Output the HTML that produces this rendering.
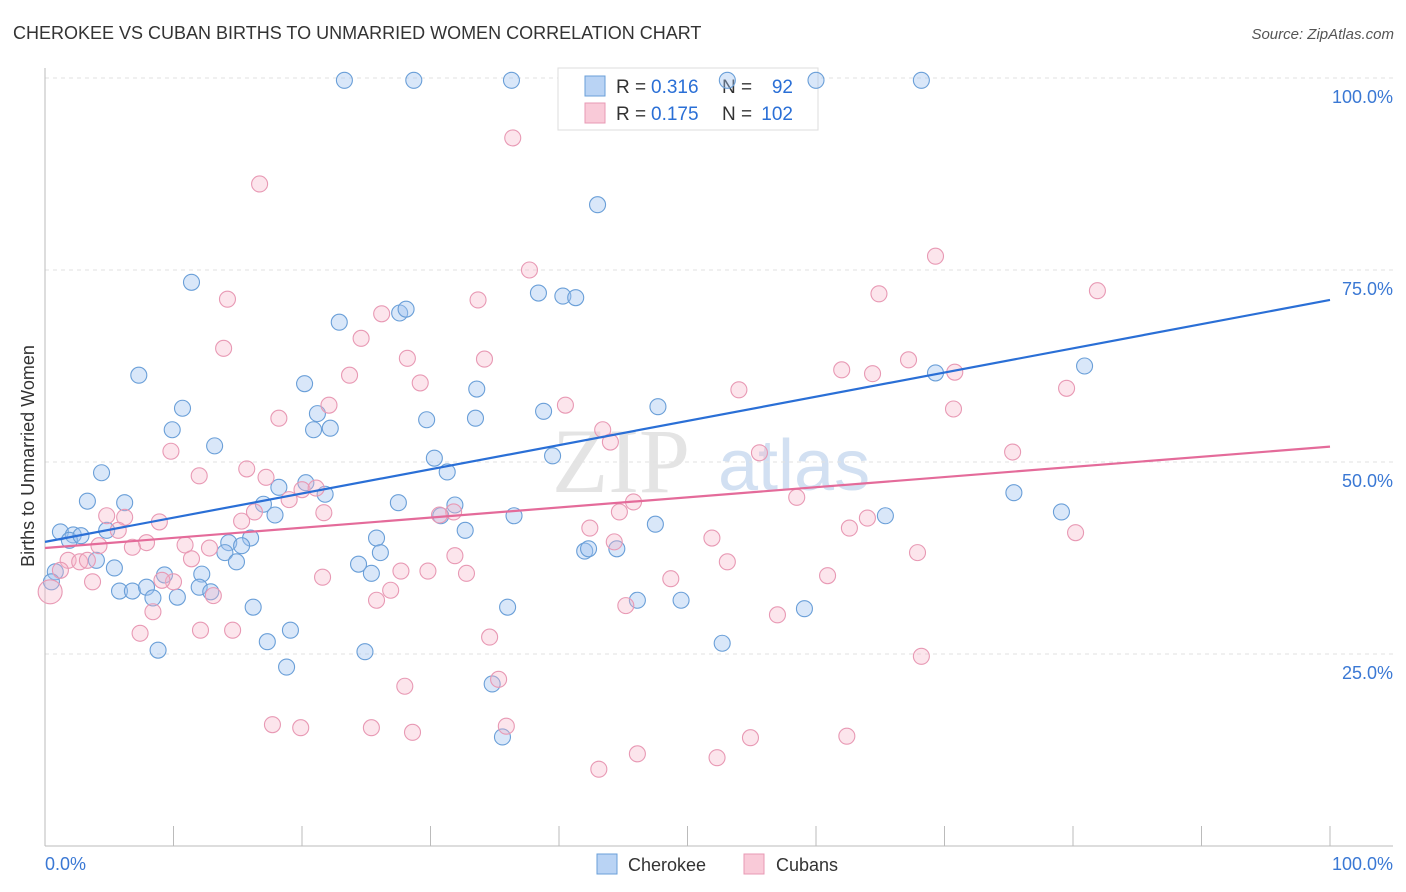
<!DOCTYPE html>
<html><head><meta charset="utf-8"><style>
body{margin:0;background:#fff;font-family:"Liberation Sans",sans-serif;}
svg{display:block}
</style></head><body>
<svg id="chart" width="1406" height="892" xmlns="http://www.w3.org/2000/svg">
<text x="13" y="39" font-size="18" fill="#333">CHEROKEE VS CUBAN BIRTHS TO UNMARRIED WOMEN CORRELATION CHART</text>
<text x="1394" y="39" font-size="15" fill="#555" text-anchor="end" font-style="italic">Source: ZipAtlas.com</text>
<text x="690" y="492" font-size="92" fill="#e4e4e4" text-anchor="end" font-family="Liberation Serif,serif">ZIP</text>
<text x="718" y="490" font-size="72" fill="#d2e0f2">atlas</text>
<g id="grid"></g>
<g id="axes"></g>
<g>
<rect x="558" y="68" width="260" height="62" fill="#fff" stroke="#ddd"/>
<rect x="585" y="76" width="20" height="20" fill="#b9d3f4" stroke="#6a9fd8"/>
<text x="616" y="93" font-size="19" fill="#333">R =</text>
<text x="651" y="93" font-size="19" fill="#2a6fd6">0.316</text>
<text x="722" y="93" font-size="19" fill="#333">N =</text>
<text x="793" y="93" font-size="19" fill="#2a6fd6" text-anchor="end">92</text>
<rect x="585" y="103" width="20" height="20" fill="#f9cad8" stroke="#e899b4"/>
<text x="616" y="120" font-size="19" fill="#333">R =</text>
<text x="651" y="120" font-size="19" fill="#2a6fd6">0.175</text>
<text x="722" y="120" font-size="19" fill="#333">N =</text>
<text x="793" y="120" font-size="19" fill="#2a6fd6" text-anchor="end">102</text>
</g>
<g id="pts"></g>
<g id="trend"></g>
<text transform="translate(34,456) rotate(-90)" font-size="18" fill="#333" text-anchor="middle">Births to Unmarried Women</text>
<text x="45" y="870" font-size="18" fill="#3a78d4">0.0%</text>
<text x="1393" y="870" font-size="18" fill="#3a78d4" text-anchor="end">100.0%</text>
<g>
<rect x="597" y="854" width="20" height="20" fill="#b9d3f4" stroke="#6a9fd8"/>
<text x="628" y="871" font-size="18" fill="#333">Cherokee</text>
<rect x="744" y="854" width="20" height="20" fill="#f9cad8" stroke="#e899b4"/>
<text x="776" y="871" font-size="18" fill="#333">Cubans</text>
</g>
</svg>
<script>
const cherX=[23.3,28.7,36.3,53.1,60.0,68.2,43.0,11.4,38.4,40.3,41.3,27.6,28.1,22.9,7.3,20.2,33.6,69.3,80.9,10.7,38.8,47.7,21.2,29.7,33.5,9.9,20.9,22.2,13.2,39.5,30.3,31.3,4.4,3.3,6.2,17.0,20.3,21.8,18.2,27.5,31.9,17.9,30.8,36.5,47.5,65.4,75.4,79.1,1.2,2.2,1.9,2.8,4.8,32.7,25.8,16.0,14.3,15.3,4.0,14.0,26.1,14.9,42.0,42.3,44.5,0.8,5.4,9.3,12.2,25.4,24.4,0.5,5.8,6.8,7.9,12.0,12.9,8.4,10.3,46.1,49.5,16.2,36.0,59.1,19.1,17.3,52.7,8.8,24.9,18.8,34.8,35.6];
const cherY=[99.7,99.7,99.7,99.7,99.7,99.7,83.5,73.4,72.0,71.6,71.4,69.4,69.9,68.2,61.3,60.2,59.5,61.6,62.5,57.0,56.6,57.2,56.3,55.5,55.7,54.2,54.2,54.4,52.1,50.8,50.5,48.7,48.6,44.9,44.7,44.5,47.3,45.8,46.7,44.7,44.4,43.1,43.0,43.0,41.9,43.0,46.0,43.5,40.9,40.5,39.8,40.4,41.1,41.1,40.1,40.1,39.5,39.1,37.2,38.2,38.2,37.0,38.4,38.7,38.7,35.7,36.2,35.3,35.4,35.5,36.7,34.4,33.2,33.2,33.7,33.7,33.1,32.3,32.4,32.0,32.0,31.1,31.1,30.9,28.1,26.6,26.4,25.5,25.3,23.3,21.1,14.2];
const cubX=[36.4,16.7,37.7,69.3,14.2,33.7,64.9,81.9,26.2,24.6,13.9,28.2,34.2,67.2,23.7,29.2,54.0,62.0,64.4,70.8,79.5,22.1,18.2,40.5,70.7,43.4,44.0,9.8,55.6,75.3,15.7,12.0,17.2,20.0,21.1,19.0,45.8,58.5,31.8,30.7,44.7,21.7,16.3,8.9,15.3,4.8,6.2,5.7,42.4,62.6,64.0,80.2,51.9,7.9,10.9,6.8,4.2,12.8,44.3,67.9,11.4,31.9,1.8,2.7,3.3,53.1,1.2,27.7,29.8,32.8,21.6,48.7,60.9,3.7,10.0,9.1,26.9,13.1,25.8,8.4,45.2,57.0,7.4,12.1,14.6,34.6,68.2,28.0,35.3,17.7,19.9,25.4,28.6,35.9,54.9,62.4,46.1,52.3,43.1,0.4];
const cubY=[92.2,86.2,75.0,76.8,71.2,71.1,71.9,72.3,69.3,66.1,64.8,63.5,63.4,63.3,61.3,60.3,59.4,62.0,61.5,61.7,59.6,57.4,55.7,57.4,56.9,54.2,52.6,51.4,51.2,51.3,49.1,48.2,48.0,46.4,46.6,45.1,44.8,45.4,43.5,43.1,43.5,43.4,43.5,42.2,42.3,43.0,42.8,41.1,41.4,41.4,42.7,40.8,40.1,39.5,39.2,38.9,39.1,38.8,39.6,38.2,37.4,37.8,37.2,37.0,37.2,37.0,35.9,35.8,35.8,35.5,35.0,34.8,35.2,34.4,34.4,34.6,33.3,32.6,32.0,30.5,31.3,30.1,27.7,28.1,28.1,27.2,24.7,20.8,21.7,15.8,15.4,15.4,14.8,15.6,14.1,14.3,12.0,11.5,10.0,33.1];
const cherTrend=[39.6,71.1];
const cubTrend=[38.8,52.0];
const yTicks=[25,50,75,100];
const yTickLabels=["25.0%","50.0%","75.0%","100.0%"];
const NS="http://www.w3.org/2000/svg";
const X=v=>45+v*12.85, Y=v=>846-v*7.68;
function mk(t,a,p){const e=document.createElementNS(NS,t);for(const k in a)e.setAttribute(k,a[k]);p.appendChild(e);return e;}
const grid=document.getElementById('grid'),axes=document.getElementById('axes'),pts=document.getElementById('pts'),tr=document.getElementById('trend');
yTicks.forEach((t,i)=>{
 const l=mk('line',{x1:45,x2:1393,y1:Y(t),y2:Y(t),stroke:'#e2e2e2','stroke-dasharray':'4,4'},grid);
 
 
 const tx=mk('text',{x:1393,y:Y(t)+25,'font-size':18,fill:'#3a78d4','text-anchor':'end'},grid);
 tx.textContent=yTickLabels[i];
 
 
});
const ax=mk('line',{x1:45,x2:45,y1:68,y2:846,stroke:'#bbb'},axes);


const bx=mk('line',{x1:45,x2:1393,y1:846,y2:846,stroke:'#bbb'},axes);


for(let i=0;i<=10;i++){const t=mk('line',{x1:X(i*10),x2:X(i*10),y1:826,y2:846,stroke:'#bbb'},axes);
 
 }
function dots(xs,ys,fill,stroke,name){xs.forEach((x,i)=>{
 const c=mk('circle',{cx:X(x),cy:Y(ys[i]),r:(x<0.6&&name==='cuban-point')?12:8,fill:fill,stroke:stroke,'stroke-width':1.1},pts);
 
 });}
dots(cherX,cherY,'rgba(160,196,240,0.4)','#6a9fd8','cherokee-point');
dots(cubX,cubY,'rgba(245,180,200,0.35)','#e899b4','cuban-point');
const l1=mk('line',{x1:X(0),y1:Y(cherTrend[0]),x2:X(100),y2:Y(cherTrend[1]),stroke:'#2a6fd6','stroke-width':2.2},tr);


const l2=mk('line',{x1:X(0),y1:Y(cubTrend[0]),x2:X(100),y2:Y(cubTrend[1]),stroke:'#e46b9a','stroke-width':2.2},tr);


</script>
</body></html>
